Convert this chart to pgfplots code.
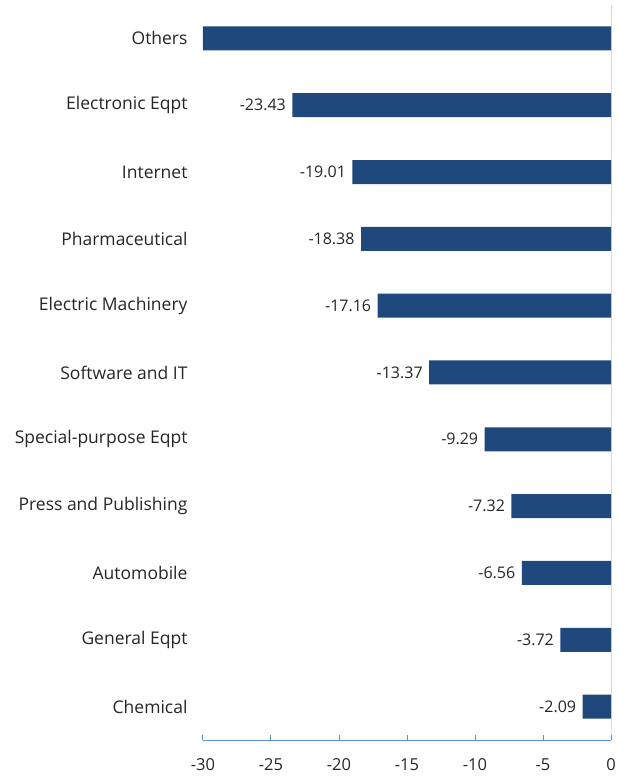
\documentclass[border=0pt]{standalone}
\usepackage{fontspec}
\setmainfont{Open Sans}
\usepackage{pgfplots}
\usepackage{pgfplotstable}
\pgfplotsset{compat=1.18}
\definecolor{barblue}{RGB}{31,73,125}
\definecolor{axisblue}{RGB}{91,143,204}
\definecolor{zeroline}{RGB}{217,217,217}

\pgfplotstableread[col sep=comma]{
idx,value,label
0,-2.09,-2.09
1,-3.72,-3.72
2,-6.56,-6.56
3,-7.32,-7.32
4,-9.29,-9.29
5,-13.37,-13.37
6,-17.16,-17.16
7,-18.38,-18.38
8,-19.01,-19.01
9,-23.43,-23.43
10,-30,{}
}\datatable

\begin{document}
\begin{tikzpicture}
\useasboundingbox (-203bp,-36bp) rectangle (428bp,740bp);
\begin{axis}[
  scale only axis,
  width=408bp, height=735bp,
  xbar, bar width=24bp,
  xmin=-30, xmax=0,
  ymin=-0.5, ymax=10.5,
  axis x line*=bottom,
  axis y line*=left,
  x axis line style={draw=axisblue, line width=1pt},
  y axis line style={draw=none},
  xtick={-30,-25,-20,-15,-10,-5,0},
  xticklabels={-30,-25,-20,-15,-10,-5,0},
  tick align=inside,
  major tick length=5bp,
  xtick style={draw=axisblue, line width=1pt},
  extra x ticks={0},
  extra x tick labels={},
  extra x tick style={grid=major, major grid style={draw=zeroline, line width=1pt}, tick style={draw=none}},
  ytick={0,...,10},
  yticklabels={Chemical,General Eqpt,Automobile,Press and Publishing,Special-purpose Eqpt,Software and IT,Electric Machinery,Pharmaceutical,Internet,Electronic Eqpt,Others},
  ytick style={draw=none},
  ticklabel style={text=black!85},
  xticklabel style={font=\fontsize{16.5bp}{18bp}\selectfont, yshift=-15bp},
  yticklabel style={font=\fontsize{17.5bp}{20bp}\selectfont, xshift=-12bp},
  nodes near coords,
  point meta=explicit symbolic,
  every node near coord/.append style={anchor=east, xshift=-3bp, font=\fontsize{16bp}{18bp}\selectfont, text=black!85},
  clip=false,
]
\addplot[fill=barblue, draw=none] table[x=value, y=idx, meta=label] {\datatable};
\end{axis}
\end{tikzpicture}
\end{document}
